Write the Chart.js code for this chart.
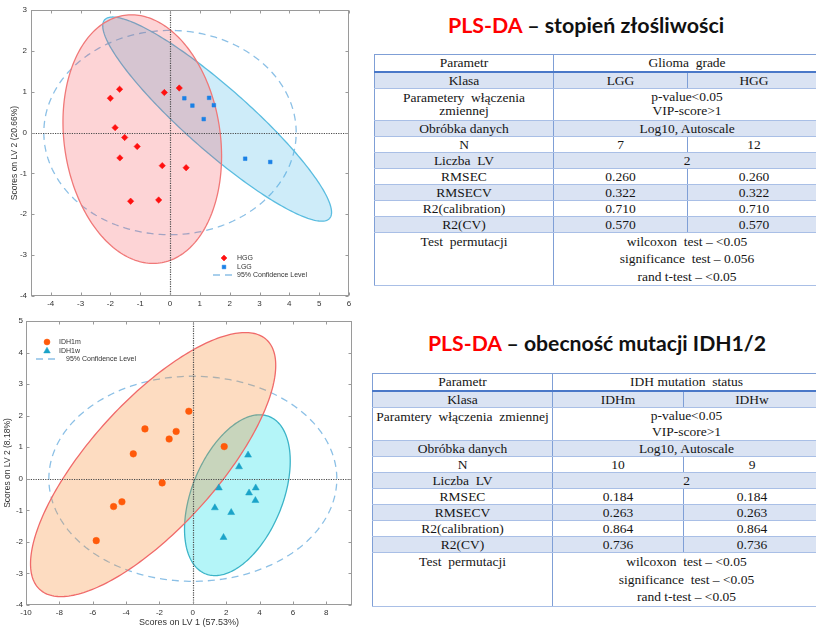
<!DOCTYPE html>
<html><head><meta charset="utf-8">
<script src="https://cdn.jsdelivr.net/npm/chart.js@4.4.1/dist/chart.umd.min.js"></script>
<style>
html,body{margin:0;padding:0;background:#fff;}
body{width:816px;height:630px;overflow:hidden;position:relative;}
canvas{position:absolute;}
#c1{left:0;top:0;}
#c2{left:0;top:312px;}
.title{position:absolute;white-space:nowrap;font-family:Lato,"Open Sans",sans-serif;font-weight:bold;color:#111;line-height:1;}
.title .red{color:#ff0000;}
table.tb{position:absolute;border-collapse:collapse;table-layout:fixed;font-family:"Liberation Serif","Times New Roman",serif;font-size:13.5px;color:#151515;}
.tb td{border-left:1px solid #7f9fd6;border-right:1px solid #7f9fd6;border-top:1px solid #a9bfe6;border-bottom:1px solid #a9bfe6;text-align:center;padding:0;line-height:15px;vertical-align:middle;overflow:hidden;white-space:nowrap;}
.tb tr.band td{background:#dae3f3;}
.tb tr.head td{border-bottom:2px solid #4a78c8;border-top:1px solid #7f9fd6;}
.tb tr.s{height:15.6px;}
</style></head>
<body>
<canvas id="c1" width="360" height="312"></canvas>
<canvas id="c2" width="360" height="318"></canvas>

<div class="title" id="tt1" style="left:448px;top:15px;"><span class="red">PLS-DA</span> – stopień złośliwości</div>
<div class="title" id="tt2" style="left:428px;top:333px;"><span class="red">PLS-DA</span> – obecność mutacji IDH1/2</div>

<table class="tb" style="left:374px;top:54px;width:446px">
<colgroup><col style="width:179px"><col style="width:134px"><col style="width:133px"></colgroup>
<tr class="head" style="height:17px"><td>Parametr</td><td colspan="2">Glioma&nbsp; grade</td></tr>
<tr class="band" style="height:16px"><td>Klasa</td><td>LGG</td><td>HGG</td></tr>
<tr style="height:32px"><td style="line-height:13px">Parametery&nbsp; włączenia<br>zmiennej</td><td colspan="2" style="line-height:14px">p-value&lt;0.05<br>VIP-score&gt;1</td></tr>
<tr class="band s"><td>Obróbka danych</td><td colspan="2">Log10, Autoscale</td></tr>
<tr class="s"><td>N</td><td>7</td><td>12</td></tr>
<tr class="band s"><td>Liczba&nbsp; LV</td><td colspan="2">2</td></tr>
<tr class="s"><td>RMSEC</td><td>0.260</td><td>0.260</td></tr>
<tr class="band s"><td>RMSECV</td><td>0.322</td><td>0.322</td></tr>
<tr class="s"><td>R2(calibration)</td><td>0.710</td><td>0.710</td></tr>
<tr class="band s"><td>R2(CV)</td><td>0.570</td><td>0.570</td></tr>
<tr style="height:52px"><td style="vertical-align:top;line-height:17.5px">Test&nbsp; permutacji</td><td colspan="2" style="vertical-align:top;line-height:17.5px">wilcoxon&nbsp; test – &lt;0.05<br>significance&nbsp; test – 0.056<br>rand t-test – &lt;0.05</td></tr>
</table>

<table class="tb" style="left:372px;top:373px;width:448px">
<colgroup><col style="width:180px"><col style="width:131px"><col style="width:137px"></colgroup>
<tr class="head" style="height:17px"><td>Parametr</td><td colspan="2">IDH mutation&nbsp; status</td></tr>
<tr class="band" style="height:17px"><td>Klasa</td><td>IDHm</td><td>IDHw</td></tr>
<tr style="height:33px"><td style="vertical-align:top;line-height:17px">Paramtery&nbsp; włączenia&nbsp; zmiennej</td><td colspan="2" style="vertical-align:top;line-height:16px">p-value&lt;0.05<br>VIP-score&gt;1</td></tr>
<tr class="band s"><td>Obróbka danych</td><td colspan="2">Log10, Autoscale</td></tr>
<tr class="s"><td>N</td><td>10</td><td>9</td></tr>
<tr class="band s"><td>Liczba&nbsp; LV</td><td colspan="2">2</td></tr>
<tr class="s"><td>RMSEC</td><td>0.184</td><td>0.184</td></tr>
<tr class="band s"><td>RMSECV</td><td>0.263</td><td>0.263</td></tr>
<tr class="s"><td>R2(calibration)</td><td>0.864</td><td>0.864</td></tr>
<tr class="band s"><td>R2(CV)</td><td>0.736</td><td>0.736</td></tr>
<tr style="height:52px"><td style="vertical-align:top;line-height:17.5px">Test&nbsp; permutacji</td><td colspan="2" style="vertical-align:top;line-height:17.5px">wilcoxon&nbsp; test – &lt;0.05<br>significance&nbsp; test – &lt;0.05<br>rand t-test – &lt;0.05</td></tr>
</table>

<script>
// ---------- DATA: chart 1 (glioma grade) ----------
const hggX = [-2.00, -1.69, -0.19, 0.31, -1.84, -1.52, -1.10, -1.68, -0.26, 0.54, -1.32, -0.38];
const hggY = [0.84, 1.06, 0.98, 1.09, 0.12, -0.12, -0.34, -0.62, -0.81, -0.86, -1.68, -1.65];
const lggX = [0.48, 0.75, 1.31, 1.47, 1.13, 2.52, 3.36];
const lggY = [0.84, 0.66, 0.85, 0.67, 0.33, -0.64, -0.72];
const xTicks1 = [-4, -3, -2, -1, 0, 1, 2, 3, 4, 5, 6];
const yTicks1 = [-4, -3, -2, -1, 0, 1, 2, 3];
// ellipses: center, major half-axis vector, minor half-axis vector (data units)
const hggEllipse = {center: [-0.93, -0.16], major: [-0.598, 3.03], minor: [2.59, 0.272]};
const lggEllipse = {center: [1.58, 0.33], major: [3.77, -2.43], minor: [0.705, 0.58]};
const conf1Ellipse = {center: [0, 0], major: [4.23, 0], minor: [0, 2.5]};

// ---------- DATA: chart 2 (IDH status) ----------
const idhmX = [-0.24, -2.87, -1.00, -1.42, -3.57, -1.84, 1.88, -4.75, -4.25, -5.79];
const idhmY = [2.14, 1.58, 1.50, 1.26, 0.79, -0.13, 1.02, -0.88, -0.73, -1.96];
const idhwX = [3.31, 2.77, 1.56, 3.77, 3.37, 3.75, 1.32, 2.30, 1.84];
const idhwY = [0.75, 0.38, -0.29, -0.29, -0.45, -0.69, -0.92, -1.07, -1.86];
const xTicks2 = [-10, -8, -6, -4, -2, 0, 2, 4, 6, 8];
const yTicks2 = [-4, -3, -2, -1, 0, 1, 2, 3, 4, 5];
const idhmEllipse = {center: [-2.38, 0.45], major: [6.79, 3.96], minor: [2.81, -1.35]};
const idhwEllipse = {center: [2.67, -0.52], major: [1.92, 2.49], minor: [2.52, -0.54]};
const conf2Ellipse = {center: [0, 0], major: [8.63, 0], minor: [0, 3.25]};

const pts = (xs, ys) => xs.map((x, i) => ({x: x, y: ys[i]}));
Chart.defaults.font.family = "'Liberation Sans', Arial, sans-serif";

// fit titles to their measured widths
(function(){
  const c = document.createElement('canvas').getContext('2d');
  c.font = 'bold 100px Lato';
  [['tt1', 277], ['tt2', 339]].forEach(([id, w]) => {
    const el = document.getElementById(id);
    const m = c.measureText(el.textContent).width;
    el.style.fontSize = (100 * w / m).toFixed(2) + 'px';
  });
})();

function drawPt(ctx, style, r, color, x, y) {
  ctx.save();
  ctx.fillStyle = color; ctx.strokeStyle = color; ctx.lineWidth = 0.5;
  Chart.helpers.drawPoint(ctx, {pointStyle: style, radius: r, rotation: 0, borderWidth: 0.5}, x, y);
  ctx.restore();
}

function makePlugin(ellipses, legend) {
  return {
    id: 'pca',
    beforeDatasetsDraw(chart) {
      const {ctx, chartArea: a} = chart;
      const xs = chart.scales.x, ys = chart.scales.y;
      ctx.save();
      ctx.beginPath(); ctx.rect(a.left, a.top, a.right - a.left, a.bottom - a.top); ctx.clip();
      for (const e of ellipses) {
        const g = e.geom;
        ctx.beginPath();
        const n = 240;
        for (let i = 0; i <= n; i++) {
          const t = i / n * Math.PI * 2;
          const vx = g.center[0] + g.major[0] * Math.cos(t) + g.minor[0] * Math.sin(t);
          const vy = g.center[1] + g.major[1] * Math.cos(t) + g.minor[1] * Math.sin(t);
          const px = xs.getPixelForValue(vx), py = ys.getPixelForValue(vy);
          if (i === 0) ctx.moveTo(px, py); else ctx.lineTo(px, py);
        }
        ctx.closePath();
        if (e.fillColor) { ctx.fillStyle = e.fillColor; ctx.fill(); }
        ctx.setLineDash(e.dashPattern || []);
        ctx.lineWidth = e.lw || 1.3;
        ctx.strokeStyle = e.strokeColor;
        ctx.stroke();
      }
      ctx.setLineDash([1.2, 1.2]);
      ctx.strokeStyle = '#4a4a4a'; ctx.lineWidth = 1.2;
      const x0 = Math.round(xs.getPixelForValue(0)) + 0.5, y0 = Math.round(ys.getPixelForValue(0)) + 0.5;
      ctx.beginPath();
      ctx.moveTo(x0, a.top); ctx.lineTo(x0, a.bottom);
      ctx.moveTo(a.left, y0); ctx.lineTo(a.right, y0);
      ctx.stroke();
      ctx.restore();
    },
    afterDatasetsDraw(chart) {
      const {ctx, chartArea: a} = chart;
      const xs = chart.scales.x, ys = chart.scales.y;
      ctx.save();
      ctx.strokeStyle = '#9a9a9a'; ctx.lineWidth = 1; ctx.setLineDash([]);
      const L = Math.round(a.left) + 0.5, R = Math.round(a.right) - 0.5, T = Math.round(a.top) + 0.5, B = Math.round(a.bottom) - 0.5;
      ctx.strokeRect(L, T, R - L, B - T);
      ctx.beginPath();
      for (const t of xs.ticks) {
        const px = Math.round(xs.getPixelForValue(t.value)) + 0.5;
        ctx.moveTo(px, B); ctx.lineTo(px, B - 3);
        ctx.moveTo(px, T); ctx.lineTo(px, T + 3);
      }
      for (const t of ys.ticks) {
        const py = Math.round(ys.getPixelForValue(t.value)) + 0.5;
        ctx.moveTo(L, py); ctx.lineTo(L + 3, py);
        ctx.moveTo(R, py); ctx.lineTo(R - 3, py);
      }
      ctx.stroke();
      ctx.font = "7px 'Liberation Sans', Arial, sans-serif";
      ctx.textBaseline = 'middle'; ctx.textAlign = 'left';
      for (const it of legend) {
        if (it.kind === 'dash') {
          ctx.save();
          ctx.strokeStyle = it.color; ctx.lineWidth = 1.3; ctx.setLineDash([7, 5]);
          ctx.beginPath(); ctx.moveTo(it.x1, it.y); ctx.lineTo(it.x2, it.y); ctx.stroke();
          ctx.restore();
        } else {
          drawPt(ctx, it.style, it.r, it.color, it.x, it.y);
        }
        ctx.fillStyle = '#333';
        ctx.fillText(it.text, it.tx, it.y);
      }
      ctx.restore();
    }
  };
}

function scaleCfg(o) {
  return {
    type: 'linear', min: o.min, max: o.max,
    grid: {display: false, drawTicks: false}, border: {display: false},
    afterBuildTicks: s => { s.ticks = o.ticks.map(v => ({value: v})); },
    afterFit: s => { if (o.w !== undefined) s.width = o.w; if (o.h !== undefined) s.height = o.h; },
    ticks: {autoSkip: false, maxRotation: 0, minRotation: 0, padding: o.pad, color: '#333', font: {size: 8}, callback: v => String(v)},
    title: o.title ? {display: true, text: o.title, color: '#333', font: {size: o.tsize || 8.5}, padding: o.tpad} : {display: false}
  };
}

new Chart(document.getElementById('c1'), {
  type: 'scatter',
  data: {datasets: [
    {label: 'HGG', data: pts(hggX, hggY), pointStyle: 'rectRot', pointRadius: 3.2, backgroundColor: '#ff1010', borderColor: '#ff1010', borderWidth: 0.5},
    {label: 'LGG', data: pts(lggX, lggY), pointStyle: 'rect', pointRadius: 2.6, backgroundColor: '#1a80e6', borderColor: '#1a80e6', borderWidth: 0.5}
  ]},
  options: {
    responsive: false, animation: false, devicePixelRatio: 1, events: [],
    layout: {padding: {top: 10, right: 11, left: 0, bottom: 0}},
    plugins: {legend: {display: false}, tooltip: {enabled: false}},
    scales: {
      x: scaleCfg({min: -4.66, max: 6, ticks: xTicks1, h: 16, pad: 3}),
      y: scaleCfg({min: -4, max: 3, ticks: yTicks1, w: 31, pad: 4, title: 'Scores on LV 2 (20.66%)', tsize: 8.5, tpad: {top: 10, bottom: 0}})
    }
  },
  plugins: [makePlugin(
    [
      {geom: conf1Ellipse, strokeColor: '#8cc0e6', dashPattern: [7, 5], lw: 1.3},
      {geom: lggEllipse, fillColor: 'rgba(60,180,230,0.25)', strokeColor: '#5bbde0'},
      {geom: hggEllipse, fillColor: 'rgba(245,60,70,0.22)', strokeColor: '#f07878'}
    ],
    [
      {kind: 'pt', style: 'rectRot', r: 3, color: '#ff1010', x: 224, y: 258, text: 'HGG', tx: 237},
      {kind: 'pt', style: 'rect', r: 2.6, color: '#1a80e6', x: 224, y: 267, text: 'LGG', tx: 237},
      {kind: 'dash', color: '#8cc0e6', x1: 213, x2: 233, y: 275, text: '95% Confidence Level', tx: 237}
    ])]
});

new Chart(document.getElementById('c2'), {
  type: 'scatter',
  data: {datasets: [
    {label: 'IDH1m', data: pts(idhmX, idhmY), pointStyle: 'circle', pointRadius: 3.3, backgroundColor: '#ff5a0a', borderColor: '#ff5a0a', borderWidth: 0.5},
    {label: 'IDH1w', data: pts(idhwX, idhwY), pointStyle: 'triangle', pointRadius: 4, backgroundColor: '#1aa3c8', borderColor: '#1aa3c8', borderWidth: 0.5}
  ]},
  options: {
    responsive: false, animation: false, devicePixelRatio: 1, events: [],
    layout: {padding: {top: 9, right: 8, left: 0, bottom: 0}},
    plugins: {legend: {display: false}, tooltip: {enabled: false}},
    scales: {
      x: scaleCfg({min: -10, max: 9.54, ticks: xTicks2, h: 25, pad: 3, title: 'Scores on LV 1 (57.53%)', tsize: 9, tpad: {top: 0, bottom: 2}}),
      y: scaleCfg({min: -4, max: 5, ticks: yTicks2, w: 26, pad: 3, title: 'Scores on LV 2 (8.18%)', tsize: 8.5, tpad: {top: 3, bottom: 0}})
    }
  },
  plugins: [makePlugin(
    [
      {geom: conf2Ellipse, strokeColor: '#8cc0e6', dashPattern: [7, 5], lw: 1.3},
      {geom: idhwEllipse, fillColor: 'rgba(40,225,235,0.35)', strokeColor: '#3cb4c8'},
      {geom: idhmEllipse, fillColor: 'rgba(250,140,50,0.3)', strokeColor: '#f06a6a'}
    ],
    [
      {kind: 'pt', style: 'circle', r: 3, color: '#ff5a0a', x: 47, y: 30, text: 'IDH1m', tx: 59},
      {kind: 'pt', style: 'triangle', r: 3.8, color: '#1aa3c8', x: 47, y: 39, text: 'IDH1w', tx: 59},
      {kind: 'dash', color: '#8cc0e6', x1: 36, x2: 57, y: 47, text: '95% Confidence Level', tx: 66}
    ])]
});
</script>
</body></html>
